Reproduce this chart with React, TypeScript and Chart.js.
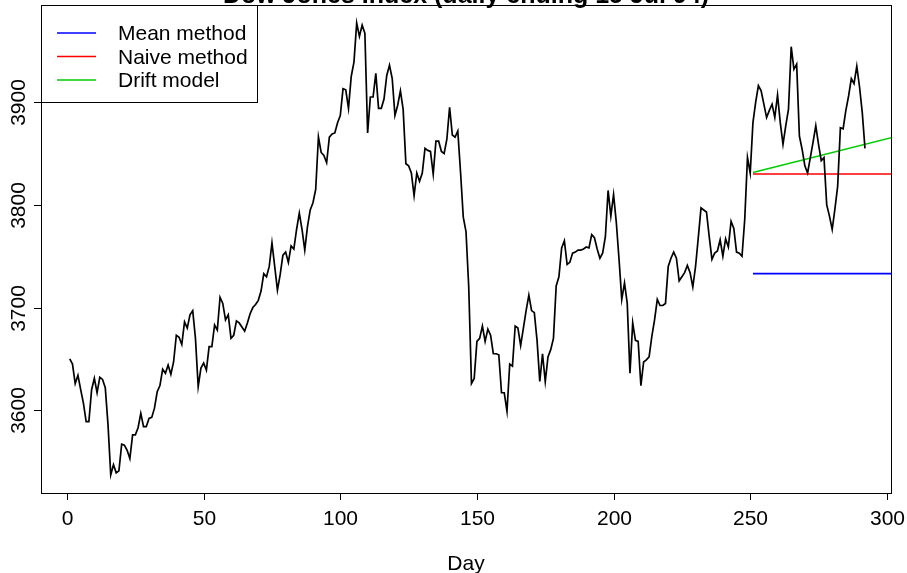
import React, { useEffect, useRef } from "react";
import { Chart, registerables } from "chart.js";

Chart.register(...registerables);

// Dow Jones index, training part (days 1-250)
const trainValues = [
  3650, 3645, 3626, 3634, 3620, 3607, 3589, 3589, 3620, 3631,
  3617, 3632, 3630, 3622, 3586, 3537, 3547, 3539, 3541, 3567,
  3566, 3561, 3553, 3576, 3576, 3583, 3597, 3584, 3584, 3592,
  3593, 3602, 3618, 3624, 3640, 3636, 3644, 3635, 3647, 3673,
  3671, 3664, 3686, 3680, 3693, 3697, 3670, 3623, 3641, 3646,
  3639, 3662, 3662, 3683, 3678, 3710, 3704, 3688, 3693, 3670,
  3673, 3687, 3685, 3681, 3677, 3685, 3694, 3700, 3703, 3707,
  3716, 3733, 3730, 3740, 3763, 3740, 3717, 3732, 3751, 3754,
  3744, 3760, 3757, 3776, 3792, 3776, 3756, 3779, 3795, 3802,
  3815, 3866, 3851, 3848, 3841, 3866, 3869, 3870, 3880, 3887,
  3913, 3912, 3894, 3925, 3939, 3977, 3964, 3975, 3967, 3870,
  3905, 3905, 3928, 3894, 3894, 3903, 3926, 3936, 3923, 3887,
  3897, 3911, 3893, 3840, 3838, 3831, 3809, 3831, 3823, 3831,
  3855, 3853, 3852, 3830, 3862, 3862, 3852, 3850, 3864, 3895,
  3868, 3866, 3872, 3832, 3788, 3774, 3720, 3626, 3631, 3667,
  3670, 3682, 3667, 3679, 3673, 3655, 3655, 3654, 3617, 3617,
  3599, 3645, 3643, 3682, 3680, 3663, 3680, 3697, 3712, 3697,
  3695, 3668, 3628, 3655, 3628, 3652, 3659, 3670, 3721, 3730,
  3758, 3765, 3742, 3744, 3753, 3754, 3756, 3756, 3757, 3759,
  3758, 3771, 3768, 3757, 3748, 3753, 3769, 3814, 3789, 3810,
  3783, 3747, 3708, 3724, 3704, 3636, 3685, 3668, 3667, 3624,
  3647, 3649, 3652, 3672, 3688, 3708, 3702, 3702, 3704, 3740,
  3748, 3754, 3748, 3726, 3730, 3734, 3741, 3734, 3720, 3740,
  3768, 3797, 3795, 3793, 3769, 3747, 3753, 3755, 3766, 3750,
  3767, 3759, 3784, 3777, 3754, 3753, 3750, 3786, 3846, 3831,
];

// Test part (days 251-292)
const testValues = [
  3880, 3900, 3916, 3911, 3898, 3885, 3892, 3898, 3885, 3907,
  3880, 3859, 3877, 3893, 3954, 3932, 3937, 3867, 3854, 3838,
  3831, 3846, 3861, 3877, 3859, 3843, 3846, 3800, 3789, 3776,
  3796, 3818, 3875, 3874, 3892, 3906, 3923, 3918, 3935, 3915,
  3890, 3855,
];

// Forecast lines (start and end of each straight line)
const forecastDays = [251, 310];
const meanForecast = [3733, 3733];
const naiveForecast = [3830, 3830];
const driftForecast = [3831.5, 3871];

const xTicks = [0, 50, 100, 150, 200, 250, 300];
const yTicks = [3600, 3700, 3800, 3900];

const legendLabels = ["Mean method", "Naive method", "Drift model"];
const legendColors = ["#0000FF", "#FF0000", "#00CD00"];

const titleText = "Dow Jones Index (daily ending 15 Jul 94)";
const xAxisLabel = "Day";

const FONT = "'Liberation Sans', Arial, Helvetica, sans-serif";

export default function App() {
  const ref = useRef<HTMLCanvasElement>(null);

  useEffect(() => {
    if (!ref.current) return;
    const series = [...trainValues, ...testValues].map((v, i) => ({ x: i + 1, y: v }));
    const fc = (arr: number[]) => forecastDays.map((d, i) => ({ x: d, y: arr[i] }));

    const basePlugin = {
      id: "rbase",
      beforeDraw(chart: any) {
        const ctx = chart.ctx;
        ctx.save();
        ctx.fillStyle = "#ffffff";
        ctx.fillRect(0, 0, chart.width, chart.height);
        ctx.restore();
      },
      afterDraw(chart: any) {
        const ctx = chart.ctx as CanvasRenderingContext2D;
        const xs = chart.scales.x;
        const ys = chart.scales.y;
        const { left, right, top, bottom } = chart.chartArea;
        ctx.save();
        ctx.strokeStyle = "#000";
        ctx.fillStyle = "#000";
        ctx.lineWidth = 1;

        // box
        ctx.strokeRect(Math.round(left) + 0.5, Math.round(top) + 0.5, Math.round(right - left), Math.round(bottom - top));

        // x ticks + labels
        ctx.font = `21px ${FONT}`;
        ctx.textAlign = "center";
        ctx.textBaseline = "alphabetic";
        xTicks.forEach((t) => {
          const px = Math.round(xs.getPixelForValue(t)) + 0.5;
          ctx.beginPath();
          ctx.moveTo(px, bottom);
          ctx.lineTo(px, bottom + 7);
          ctx.stroke();
          ctx.fillText(String(t), px, 525);
        });
        // y ticks + labels
        yTicks.forEach((t) => {
          const py = Math.round(ys.getPixelForValue(t)) + 0.5;
          ctx.beginPath();
          ctx.moveTo(left, py);
          ctx.lineTo(left - 7, py);
          ctx.stroke();
          ctx.save();
          ctx.translate(25, py);
          ctx.rotate(-Math.PI / 2);
          ctx.fillText(String(t), 0, 0);
          ctx.restore();
        });

        // axis label
        ctx.fillText(xAxisLabel, (left + right) / 2, 570);

        // title
        ctx.font = `bold 25px ${FONT}`;
        ctx.fillText(titleText, (left + right) / 2, 2.5);

        // legend
        const lx0 = left, ly0 = top, lw = 216, lh = 97;
        ctx.fillStyle = "#fff";
        ctx.fillRect(lx0, ly0, lw, lh);
        ctx.strokeStyle = "#000";
        ctx.strokeRect(Math.round(lx0) + 0.5, Math.round(ly0) + 0.5, lw, lh);
        ctx.font = `21px ${FONT}`;
        ctx.textAlign = "left";
        legendLabels.forEach((lab, i) => {
          const cy = 33 + i * 23.5;
          ctx.strokeStyle = legendColors[i];
          ctx.lineWidth = 1.5;
          ctx.beginPath();
          ctx.moveTo(57, cy);
          ctx.lineTo(96, cy);
          ctx.stroke();
          ctx.fillStyle = "#000";
          ctx.fillText(lab, 118, cy + 7);
        });
        ctx.restore();
      },
    };

    const lineDs = (data: any, color: string, width: number) => ({
      data,
      borderColor: color,
      borderWidth: width,
      pointRadius: 0,
      tension: 0,
      fill: false,
    });

    const chart = new Chart(ref.current, {
      type: "line",
      data: {
        datasets: [
          lineDs(series, "#000000", 1.7),
          lineDs(fc(meanForecast), legendColors[0], 1.6),
          lineDs(fc(naiveForecast), legendColors[1], 1.6),
          lineDs(fc(driftForecast), legendColors[2], 1.6),
        ],
      },
      options: {
        animation: false,
        responsive: false,
        events: [],
        layout: { padding: { left: 0, right: 16, top: 5, bottom: 0 } },
        plugins: { legend: { display: false }, tooltip: { enabled: false }, title: { display: false } },
        scales: {
          x: {
            type: "linear",
            min: -9.52,
            max: 301.52,
            afterFit(s: any) { s.height = 80; },
            ticks: { display: false },
            grid: { display: false },
            border: { display: false },
          },
          y: {
            type: "linear",
            min: 3519.4,
            max: 3994.6,
            afterFit(s: any) { s.width = 41; },
            ticks: { display: false },
            grid: { display: false },
            border: { display: false },
          },
        },
      },
      plugins: [basePlugin],
    } as any);
    return () => chart.destroy();
  }, []);

  return (
    <div style={{ position: "fixed", left: 0, top: 0, width: 907, height: 573, background: "#fff" }}>
      <canvas ref={ref} width={907} height={573} style={{ display: "block", width: 907, height: 573 }} />
    </div>
  );
}
